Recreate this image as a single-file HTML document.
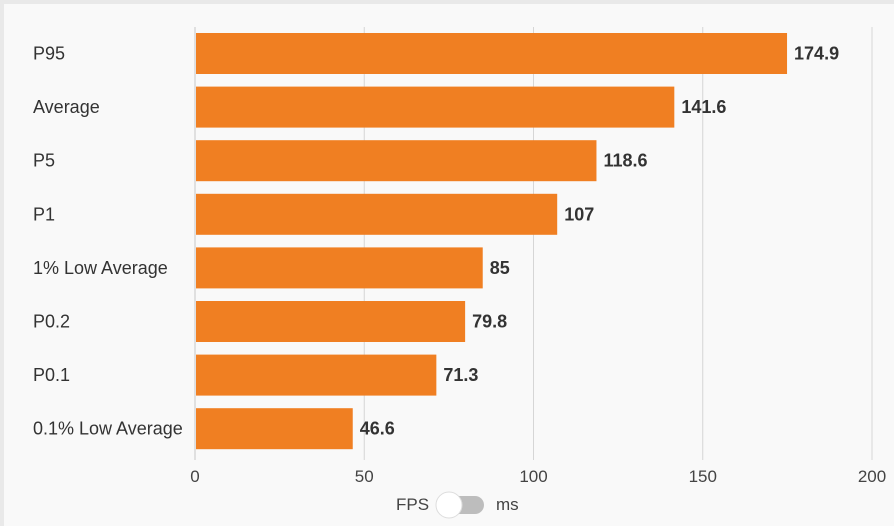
<!DOCTYPE html>
<html><head><meta charset="utf-8"><style>
html,body{margin:0;padding:0;}
body{width:894px;height:526px;background:#e9e9e9;overflow:hidden;font-family:"Liberation Sans",sans-serif;}
#panel{position:absolute;left:4px;top:4px;width:890px;height:522px;background:#f9f9f9;}
svg{position:absolute;left:0;top:0;}
</style></head><body>
<div id="panel"></div>
<svg id="chart" width="894" height="526"></svg>
<script>
const categories=["P95","Average","P5","P1","1% Low Average","P0.2","P0.1","0.1% Low Average"];
const values=[174.9,141.6,118.6,107,85,79.8,71.3,46.6];
const ticks=[0,50,100,150,200];
const NS="http://www.w3.org/2000/svg";
const svg=document.getElementById('chart');
const x0=195,x1=872,yTop=27,yBot=460,step=53.6,barH=41,first=33;
const xs=v=>x0+(v/200)*(x1-x0);
function mk(t,a,txt){const e=document.createElementNS(NS,t);for(const k in a)e.setAttribute(k,a[k]);if(txt!==undefined)e.textContent=txt;svg.appendChild(e);return e;}
ticks.forEach(t=>{
 const g=mk('line',{x1:xs(t),x2:xs(t),y1:yTop,y2:yBot,stroke:t===0?'#c8c8c8':'#d6d6d6','stroke-width':1});
 
 
 const l=mk('text',{x:xs(t),y:482,'text-anchor':'middle','font-size':17,fill:'#444'},t);
 
 
});
categories.forEach((c,i)=>{
 const y=first+i*step;
 const lab=mk('text',{x:33,y:y+barH/2+6,'font-size':18,fill:'#333'},c);
 
 
 const r=mk('rect',{x:x0+1,y:y,width:xs(values[i])-x0-1,height:barH,fill:'#f07f22'});
 
 
 const v=mk('text',{x:xs(values[i])+7,y:y+barH/2+6,'font-size':18,'font-weight':'bold',fill:'#333'},values[i]);
 
 
});
const f=mk('text',{x:396,y:510,'font-size':17,fill:'#444'},'FPS');


const tr=mk('rect',{x:440,y:496,width:44,height:18,rx:9,fill:'#bdbdbd'});


const kn=mk('circle',{cx:449,cy:505,r:13,fill:'#fff',stroke:'#ddd','stroke-width':1});


const m=mk('text',{x:496,y:510,'font-size':17,fill:'#444'},'ms');


</script>
</body></html>
